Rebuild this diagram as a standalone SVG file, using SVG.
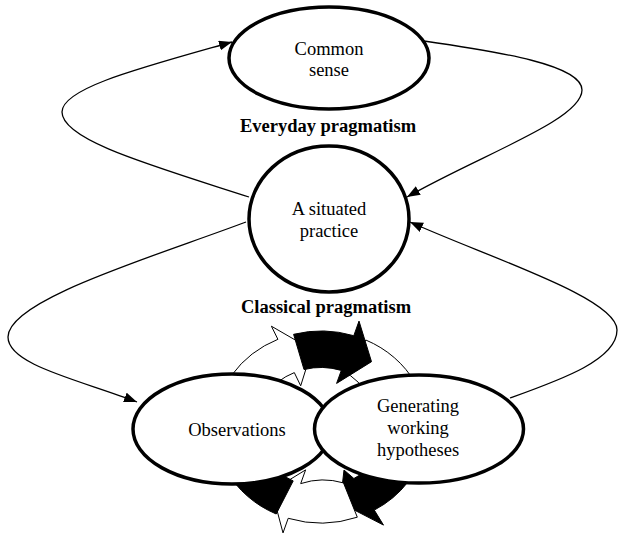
<svg xmlns="http://www.w3.org/2000/svg" width="619" height="536" viewBox="0 0 619 536">
<defs>
<style>
.node{fill:#fff;stroke:#000;stroke-width:3.5}
.lbl{font-family:"Liberation Serif","Times New Roman",serif;font-size:18.5px;text-anchor:middle;fill:#000}
.bold{font-weight:bold}
.conn{fill:none;stroke:#000;stroke-width:1.3}
.wa{fill:#fff;stroke:#000;stroke-width:1}
.ba{fill:#000;stroke:#000;stroke-width:1}
</style>
<marker id="ah" markerUnits="userSpaceOnUse" markerWidth="14" markerHeight="12" refX="13" refY="5" orient="auto">
<path d="M0,0 L13,5 L0,10 z" fill="#000"/>
</marker>
</defs>
<rect width="619" height="536" fill="#fff"/>

<g id="connectors">
<path class="conn" marker-end="url(#ah)" d="M249,197 C150,165 62,140 62,112 C62,88 140,68 232,42"/>
<path class="conn" marker-end="url(#ah)" d="M424,41 C500,52 582,65 582,90 C582,120 480,155 407,197"/>
<path class="conn" marker-end="url(#ah)" d="M246,222 C150,258 8,300 8,337 C8,365 80,380 137,402"/>
<path class="conn" marker-end="url(#ah)" d="M510,398 C560,380 617,360 617,330 C617,298 490,258 410,222"/>
</g>

<g id="cycle">
<path class="wa" d="M365.8,340 A106,96 0 0 1 425.4,443.7 L435.8,445.3 L400,470 L374,434 A65.7,59.5 0 0 0 342,370.5 Z"/>
<path class="wa" d="M215,427 A106,96 0 0 1 277.9,339.3 L271.4,326.2 L312,349.7 L300.7,385.8 L294.3,372.6 A65.7,59.5 0 0 0 255.3,427 Z"/>
<path class="ba" d="M293.6,334.3 A106,96 0 0 1 353.8,335.7 L359,321.1 L371.5,361.7 L336.6,383.4 L341.3,370.4 A65.7,59.5 0 0 0 304,369.5 Z"/>
<path class="ba" d="M425.4,443.7 A106,96 0 0 1 374.3,510.1 L383.5,525.1 L340.3,502.8 L344,470 L353.9,478.5 A65.7,59.5 0 0 0 385.7,437.3 Z"/>
<path class="wa" d="M357.3,517.2 A106,96 0 0 1 288.2,518.3 L283,532.9 L271.8,490.7 L305.6,469.9 L300.7,483.6 A65.7,59.5 0 0 1 343.5,482.9 Z" transform=""/>
<path class="ba" d="M276.2,514 A106,96 0 0 1 216.6,410.3 L199.9,407.7 L244.5,391.7 L271.9,419.2 L256.3,416.7 A65.7,59.5 0 0 0 293.2,480.9 Z"/>
</g>

<g id="common-sense">
<ellipse class="node" cx="329" cy="58" rx="100" ry="51"/>
<text class="lbl" x="329" y="55">Common</text>
<text class="lbl" x="329" y="76">sense</text>
</g>
<text class="lbl bold" x="328" y="132">Everyday pragmatism</text>

<g id="situated-practice">
<ellipse class="node" cx="329" cy="219" rx="80" ry="73"/>
<text class="lbl" x="329" y="215">A situated</text>
<text class="lbl" x="329" y="237">practice</text>
</g>
<text class="lbl bold" x="326" y="313">Classical pragmatism</text>

<g id="observations">
<ellipse class="node" cx="232" cy="429" rx="99" ry="55"/>
<text class="lbl" x="237" y="436">Observations</text>
</g>

<g id="generating">
<ellipse class="node" cx="419" cy="429" rx="104.5" ry="54"/>
<text class="lbl" x="418" y="412">Generating</text>
<text class="lbl" x="418" y="434">working</text>
<text class="lbl" x="418" y="456">hypotheses</text>
</g>
</svg>
